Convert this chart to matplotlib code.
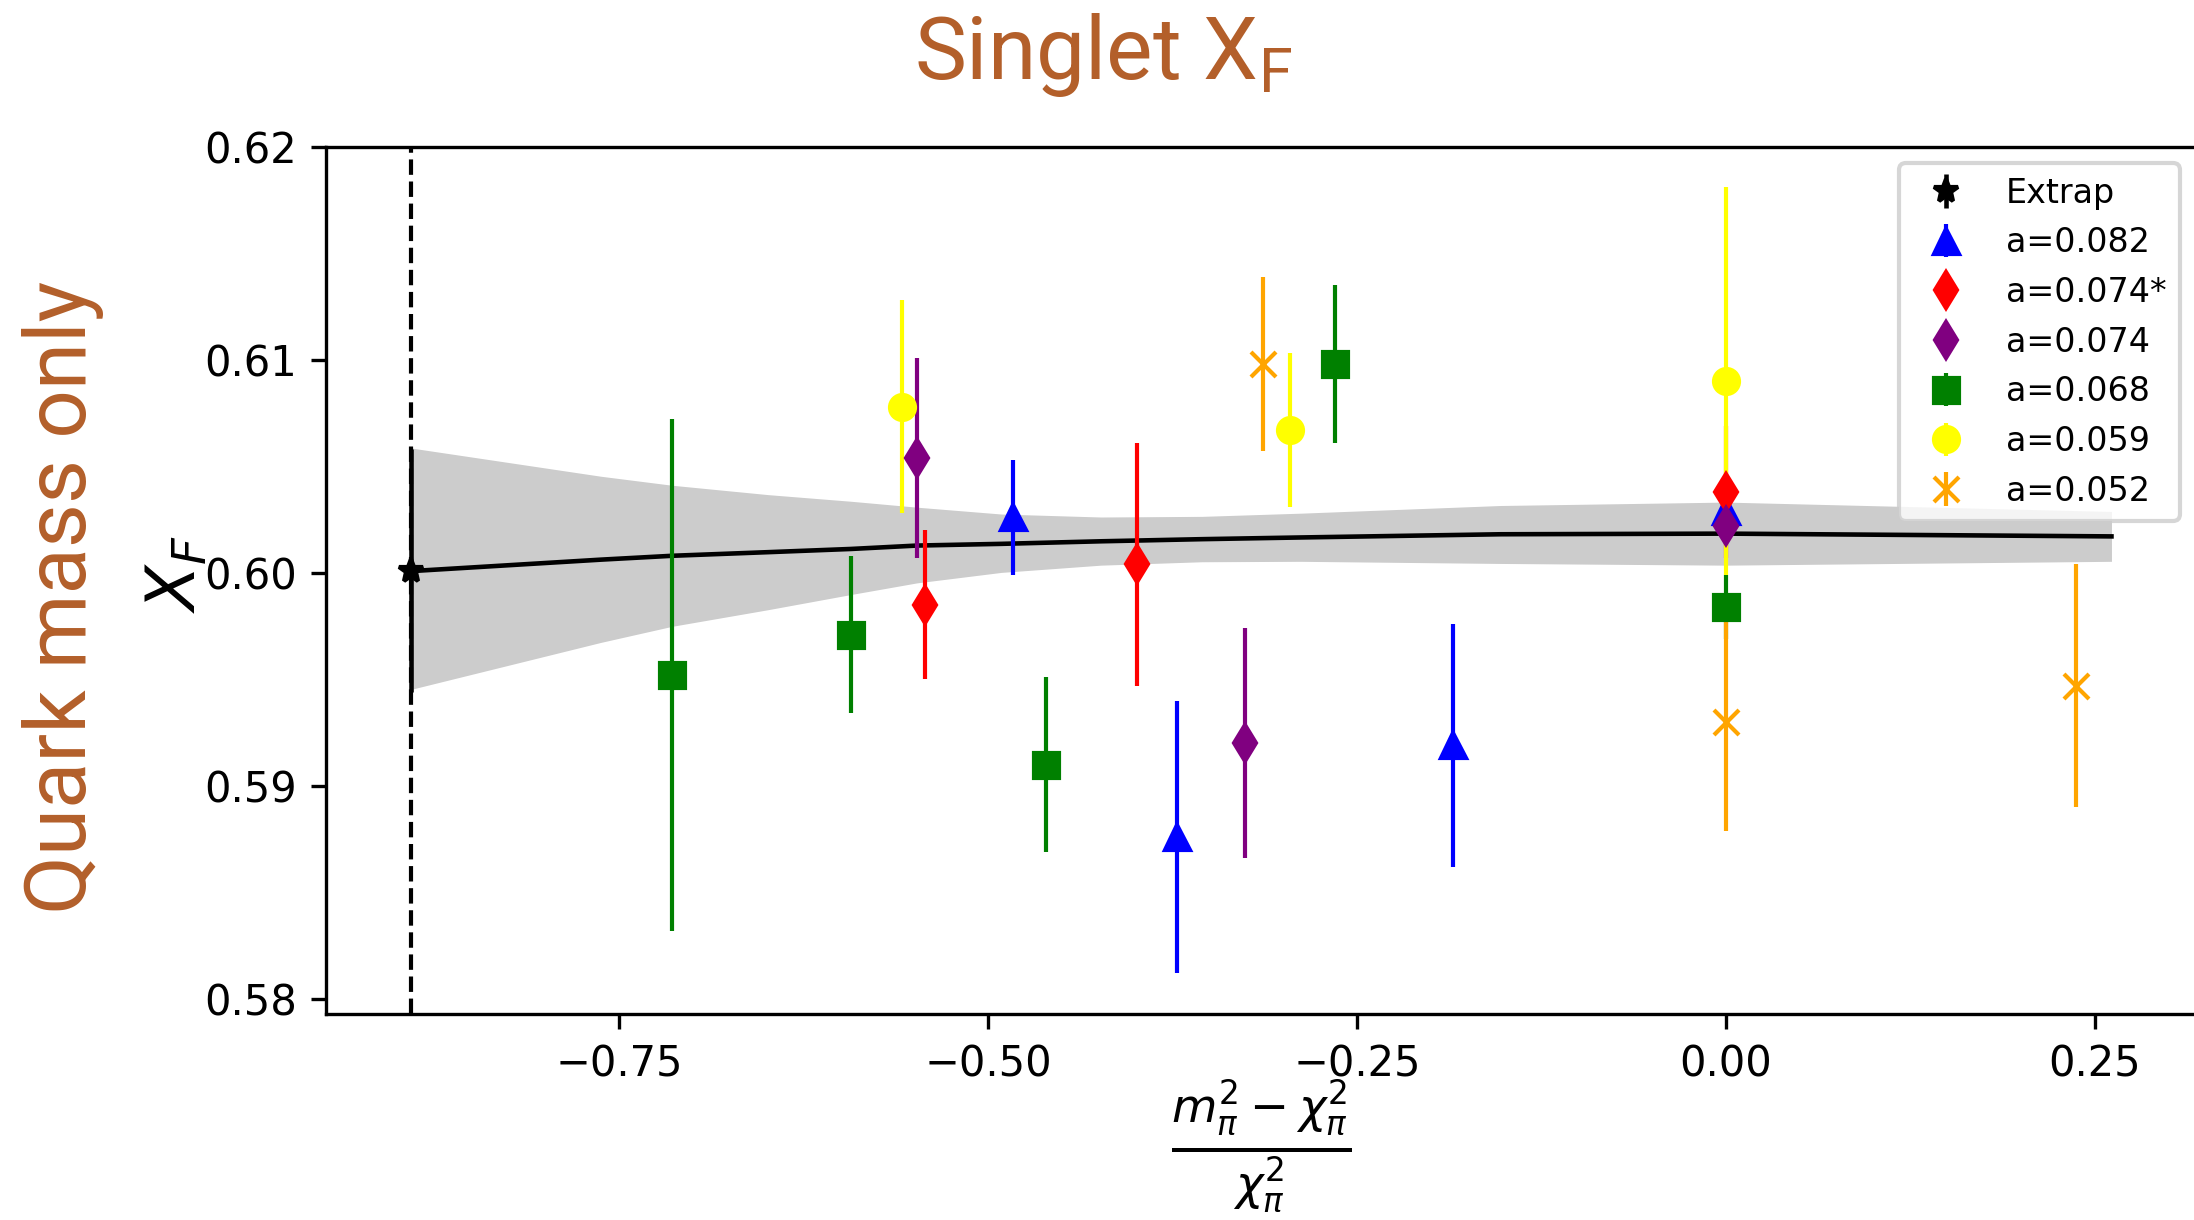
import matplotlib
matplotlib.use("Agg")
import matplotlib.pyplot as plt

# extrapolated value at the physical point
extrap_x = [-0.891]
extrap_y = [0.6001]
extrap_err = [0.0057]

# lattice ensembles, grouped by lattice spacing
x_082 = [-0.483, -0.372, -0.185, 0.0]
y_082 = [0.6026, 0.5876, 0.5919, 0.6029]
e_082 = [0.0027, 0.0064, 0.0057, 0.0004]

x_074s = [-0.543, -0.399, 0.0]
y_074s = [0.5985, 0.6004, 0.6038]
e_074s = [0.0035, 0.0057, 0.0031]

x_074 = [-0.548, -0.326, 0.0]
y_074 = [0.6054, 0.5920, 0.6022]
e_074 = [0.0047, 0.0054, 0.0005]

x_068 = [-0.714, -0.593, -0.461, -0.265, 0.0]
y_068 = [0.5952, 0.5971, 0.5910, 0.6098, 0.5984]
e_068 = [0.0120, 0.0037, 0.0041, 0.0037, 0.0015]

x_059 = [-0.558, -0.2955, 0.0]
y_059 = [0.6078, 0.6067, 0.6090]
e_059 = [0.0050, 0.0036, 0.0091]

x_052 = [-0.314, 0.0, 0.237]
y_052 = [0.6098, 0.5930, 0.5947]
e_052 = [0.0041, 0.0051, 0.0057]

# fit curve and its error band
fit_x = [-0.891, -0.762, -0.714, -0.649, -0.593, -0.548, -0.491, -0.4235,
         -0.355, -0.288, -0.1527, 0.0, 0.2612]
fit_y = [0.60008, 0.60062, 0.60080, 0.60097, 0.60112, 0.60128, 0.60136, 0.60148,
         0.60158, 0.60166, 0.60181, 0.60184, 0.60171]
fit_hi = [0.60586, 0.60453, 0.60411, 0.60367, 0.60336, 0.60308, 0.60276, 0.60262,
          0.60265, 0.60280, 0.60316, 0.60332, 0.60288]
fit_lo = [0.59453, 0.59674, 0.59749, 0.59827, 0.59898, 0.59953, 0.60002, 0.60036,
          0.60052, 0.60054, 0.60044, 0.60036, 0.60054]

series = [
    (x_082, y_082, e_082, "^", "blue", "a=0.082"),
    (x_074s, y_074s, e_074s, "d", "red", "a=0.074*"),
    (x_074, y_074, e_074, "d", "purple", "a=0.074"),
    (x_068, y_068, e_068, "s", "green", "a=0.068"),
    (x_059, y_059, e_059, "o", "yellow", "a=0.059"),
    (x_052, y_052, e_052, "x", "orange", "a=0.052"),
]

brown = "#b35f2a"
narrow = ["Roboto", "DejaVu Sans"]

fig = plt.figure(figsize=(2194 / 300, 1220 / 300), dpi=300)
ax = fig.add_axes([0.1486, 0.1689, 0.8524, 0.7109])

ax.fill_between(fit_x, fit_lo, fit_hi, color="gray", alpha=0.4, linewidth=0)
ax.plot(fit_x, fit_y, color="black", linewidth=1.1)
ax.axvline(extrap_x[0], color="black", linestyle="--", linewidth=1.0)

c = ax.errorbar(extrap_x, extrap_y, yerr=extrap_err, fmt="*", color="black",
                markersize=6, elinewidth=1.1, label="Extrap")
c.lines[0].set_zorder(3)
for xs, ys, es, m, col, lab in series:
    c = ax.errorbar(xs, ys, yerr=es, fmt=m, color=col, markersize=6,
                    elinewidth=1.0, label=lab)
    c.lines[0].set_zorder(3)

ax.set_xlim(-0.9485, 0.3186)
ax.set_ylim(0.5793, 0.6200)
ax.set_xticks([-0.75, -0.50, -0.25, 0.00, 0.25])
ax.set_yticks([0.58, 0.59, 0.60, 0.61, 0.62])
ax.tick_params(labelsize=10)

ax.set_xlabel(r"$\frac{m_\pi^2-\chi_\pi^2}{\chi_\pi^2}$", fontsize=16)
ax.xaxis.set_label_coords(0.5, -0.073)
ax.set_ylabel(r"$X_F$", fontsize=16)
ax.yaxis.set_label_coords(-0.062, 0.507)

ax.legend(loc="upper right", fontsize=8)

fig.text(0.503, 0.955, r"Singlet $\mathregular{X_F}$", color=brown, fontsize=21,
         family=narrow, ha="center", va="center")
fig.text(0.0287, 0.51, "Quark mass only", color=brown, fontsize=20.5,
         family=narrow, rotation=90, ha="center", va="center")

fig.savefig("out.png", dpi=300)
